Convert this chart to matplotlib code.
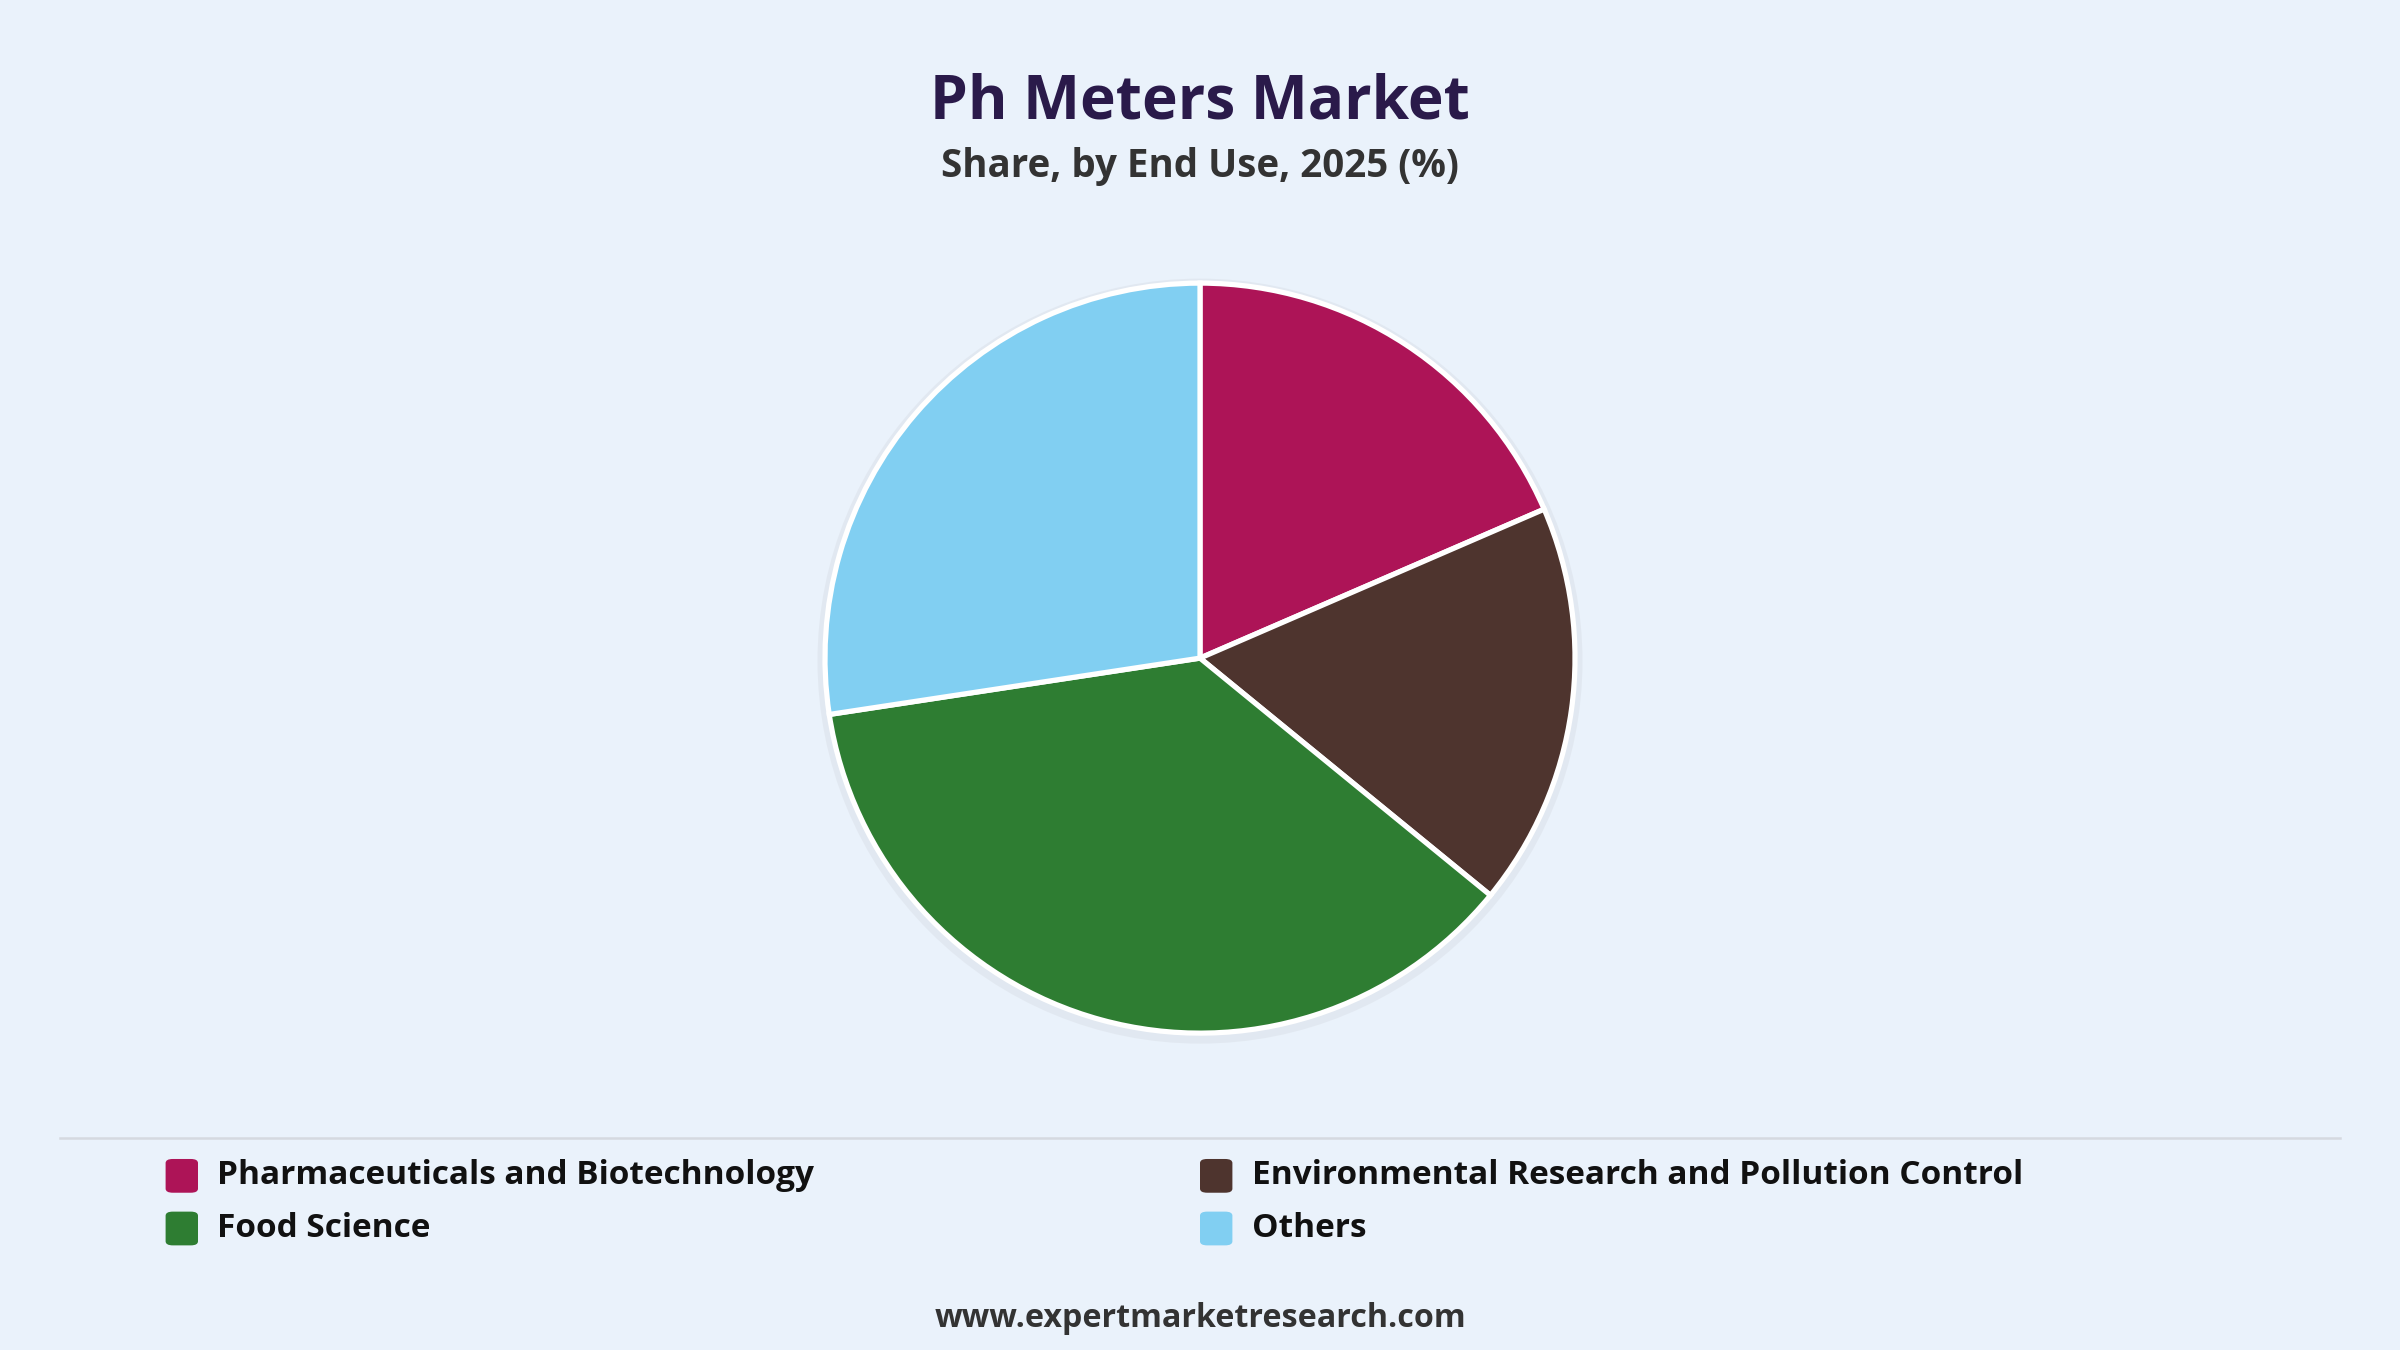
import matplotlib
matplotlib.use("Agg")
import matplotlib.pyplot as plt
from matplotlib.patches import Circle, FancyBboxPatch

plt.rcParams['font.family'] = ['Open Sans', 'DejaVu Sans']

# data
categories = ["Pharmaceuticals and Biotechnology",
              "Environmental Research and Pollution Control",
              "Food Science", "Others"]
shares = [18.5, 17.4, 36.7, 27.4]
colors = ["#AD1457", "#4E342E", "#2E7D32", "#81CFF2"]

bg = "#EAF2FB"
fig = plt.figure(figsize=(16, 9), dpi=150, facecolor=bg)

# pie
ax = fig.add_axes([0.5 - 0.15625, 0.5125 - 0.278, 0.3125, 0.556])
ax.set_facecolor(bg)
ax.add_patch(Circle((0.0, -0.008), 1.02, color="#cfd3da", alpha=0.3, lw=0, zorder=0, clip_on=False))
wedges, _ = ax.pie(shares, colors=colors, startangle=90, counterclock=False, radius=1,
                   wedgeprops=dict(edgecolor="white", linewidth=2.5))
for w in wedges:
    w.set_clip_on(False)
ax.set_xlim(-1.0, 1.0)
ax.set_ylim(-1.0, 1.0)
ax.set_aspect("equal")
ax.axis("off")

# titles
fig.text(0.5, 0.924, "Ph Meters Market", ha="center", va="center",
         fontsize=29, fontweight="bold", color="#2A1A4A")
fig.text(0.5, 0.877, "Share, by End Use, 2025 (%)", ha="center", va="center",
         fontsize=18.5, fontweight="bold", color="#333333")

# separator
fig.add_artist(plt.Line2D([0.025, 0.975], [0.157, 0.157], color="#d5d9e0", lw=1.2))

# legend
pos = [(0.069, 0.129), (0.5, 0.129), (0.069, 0.090), (0.5, 0.090)]
for (x, y), lab, c in zip(pos, categories, colors):
    fig.add_artist(FancyBboxPatch((x, y - 0.0125), 0.0135, 0.025,
                                  boxstyle="round,pad=0,rounding_size=0.003",
                                  transform=fig.transFigure, fc=c, ec="none"))
    fig.text(x + 0.0215, y, lab, ha="left", va="center", fontsize=16,
             fontweight="bold", color="#111111")

fig.text(0.5, 0.023, "www.expertmarketresearch.com", ha="center", va="center",
         fontsize=15.5, fontweight="bold", color="#333333")

fig.savefig("out.png", facecolor=bg)
